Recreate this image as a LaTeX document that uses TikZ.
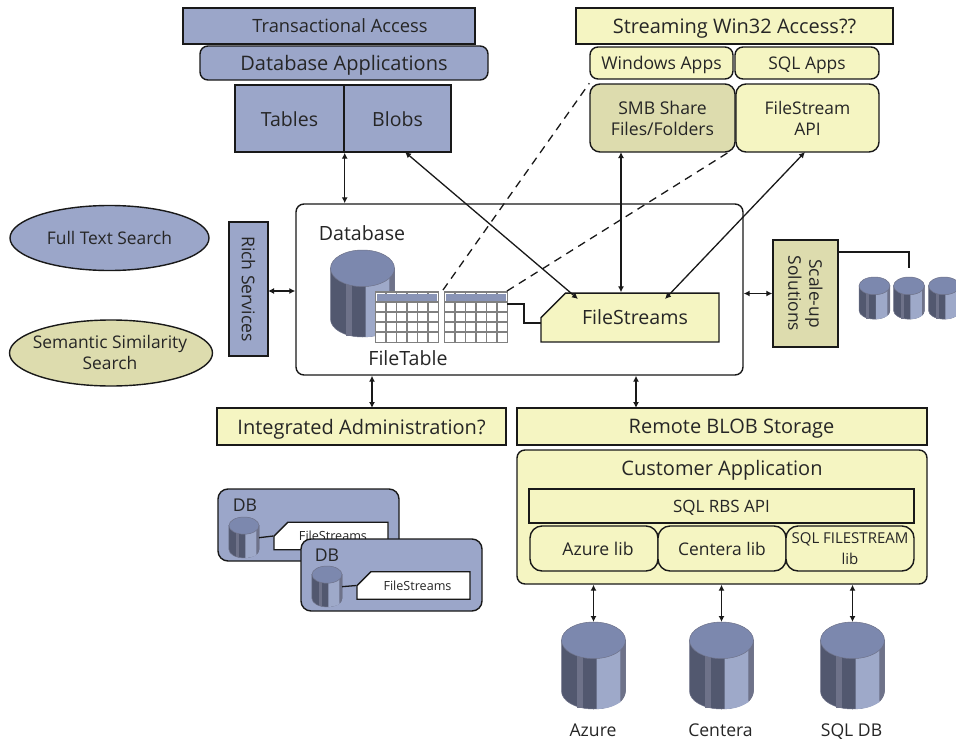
\documentclass[tikz,border=0pt]{standalone}
\usepackage{fontspec}
\setmainfont{Open Sans}
\usetikzlibrary{arrows.meta,shapes.geometric,shapes.misc}

\definecolor{slateblue}{HTML}{9BA6C9}
\definecolor{paleyellow}{HTML}{F5F5C2}
\definecolor{khaki}{HTML}{DDDCAE}
\definecolor{cyltop}{HTML}{7C88AE}
\definecolor{cyldark}{HTML}{52586F}
\definecolor{cylstrip}{HTML}{6E7289}
\definecolor{cyllight}{HTML}{9EA9C9}

\tikzset{
    labeltext/.style={text=black!85,align=center,inner sep=0pt,text depth=0pt,font=\fontsize{#1}{21}\selectfont},
    labeltext/.default=20,
    plainbox/.style={draw=black!90,line width=1.4pt,inner sep=0pt,labeltext=#1},
    plainbox/.default=20,
    bluebox/.style={plainbox=#1,fill=slateblue},
    bluebox/.default=20,
    yellowbox/.style={plainbox=#1,fill=paleyellow},
    yellowbox/.default=20,
    khakibox/.style={plainbox=#1,fill=khaki},
    khakibox/.default=20,
    twoway/.style={{Latex[length=6pt,width=6pt]}-{Latex[length=6pt,width=6pt]},line width=1.3pt,black!90},
    filelink/.style={dash pattern=on 8pt off 6pt,line width=1.3pt,black!90},
    cutbox/.style={chamfered rectangle,chamfered rectangle corners=north west,
        chamfered rectangle xsep=#1,chamfered rectangle ysep=#1},
    dbcyl/.pic={
        \fill[cyldark,draw=cylstrip,line width=.5pt] (-32,18) -- (-32,69) .. controls (-32,79) and (-18,87) .. (0,87)
            .. controls (18,87) and (32,79) .. (32,69) -- (32,18) -- cycle;
        \fill[cylstrip] (-17,25) rectangle (-11,86);
        \fill[cyllight] (3,25) -- (27,25) -- (27,80) .. controls (20,85) and (12,87) .. (3,87) -- cycle;
        \fill[cylstrip] (27,25) -- (32,20) -- (32,69) .. controls (32,73) and (30,77) .. (27,80) -- cycle;
        \draw[cylstrip,line width=.5pt,fill=cyltop] (0,18.3) ellipse (32 and 18.3);
        \coordinate (-top) at (0,0);
        \coordinate (-east) at (32,44);
    },
    gridtable/.pic={
        \fill[white] (0,0) rectangle (63,50.5);
        \draw[black!50,line width=1.1pt,xstep=10.5,ystep=10] (0,50) grid (63,0);
        \draw[black!50,line width=1.1pt] (0,10) -- (63,10);
        \draw[black!50,line width=1.1pt] (0,20) -- (63,20);
        \draw[black!50,line width=1.1pt] (0,30) -- (63,30);
        \draw[black!50,line width=1.1pt] (0,40) -- (63,40);
        \draw[black!50,line width=1.8pt] (0,0) rectangle (63,50.5);
        \fill[cyltop!90!white] (1.5,1.5) rectangle (61.5,8.6);
    }
}

\begin{document}
\begin{tikzpicture}[x=1pt,y=-1pt]
    \useasboundingbox (0,0) rectangle (956,739);
    % top left stack
    \node[bluebox=18.3,minimum width=292,minimum height=36] (transact) at (329,26) {\hspace{22pt}Transactional Access};
    \node[bluebox,rounded corners=8pt,minimum width=288,minimum height=34] (dbapps) at (344,63) {Database Applications};
    \node[bluebox=19.5,minimum width=109,minimum height=67] (tables) at (289.5,118.5) {\raisebox{-1.5pt}{Tables}};
    \node[bluebox=19.5,minimum width=107,minimum height=67] (blobs) at (397.5,118.5) {\raisebox{-1.5pt}{Blobs}};
    % top right stack
    \node[yellowbox,minimum width=317,minimum height=36] (streaming) at (734.5,26) {Streaming Win32 Access??};
    \node[yellowbox=17.6,rounded corners=8pt,minimum width=143,minimum height=32] (winapps) at (661.5,63) {Windows Apps};
    \node[yellowbox=17.4,rounded corners=8pt,minimum width=144,minimum height=32] (sqlapps) at (807,63) {SQL Apps};
    \node[khakibox=17.6,rounded corners=10pt,minimum width=145,minimum height=68] (smb) at (662.5,118) {SMB Share\\Files/Folders};
    \node[yellowbox=17.4,rounded corners=10pt,minimum width=143,minimum height=68] (fsapi) at (807.5,118) {FileStream\\API};
    % left side services
    \node[bluebox,ellipse,minimum width=199,minimum height=65] (fulltext) at (109.5,238) {};
    \node[labeltext=17.4] (fulltextname) at (109.5,238) {Full Text Search};
    \node[khakibox,ellipse,minimum width=203,minimum height=66] (semantic) at (111,353) {};
    \node[labeltext=17.4] (semanticname) at (110,352) {Semantic Similarity\\Search};
    \node[bluebox=17.6,rotate=-90,minimum width=134,minimum height=39] (rich) at (248.5,289) {Rich Services};
    % central database box
    \node[plainbox,fill=white,rounded corners=8pt,minimum width=447,minimum height=171] (dbbox) at (519.5,289.5) {};
    \node[labeltext=19.6] (dbname) at (362,233) {Database};
    \pic (dbmain) at (362.5,250) {dbcyl};
    \pic (gridA) at (375.5,292) {gridtable};
    \pic (gridB) at (444.5,292) {gridtable};
    \node[labeltext=19.6] (ftname) at (408,358) {FileTable};
    \node[yellowbox=19.6,cutbox=17pt,minimum width=178,minimum height=37] (fstream) at (630,317.5) {\hspace{10pt}FileStreams};
    \coordinate (gridAtop) at (443,290);
    \coordinate (gridBtop) at (507,291);
    \coordinate (gridport) at (507,304);
    \coordinate (fsport) at (541,323);
    \coordinate (smbedge) at (729,152);
    \coordinate (smbout) at (621,152);
    \coordinate (blobout) at (405,152);
    \coordinate (apiout) at (805,152);
    \coordinate (fsblob) at (578,299);
    \coordinate (fsapiin) at (665,299);
    \coordinate (richport) at (268,291);
    \draw[line width=1.6pt,black!90] (gridport) -- (524,304) -- (524,323) -- (fsport);
    \draw[filelink] (gridAtop) -- (smb.north west);
    \draw[filelink] (gridBtop) -- (smbedge);
    % arrows around the box
    \draw[twoway] (tables.south east) -- (tables.south east |- dbbox.north);
    \draw[twoway] (blobout) -- (fsblob);
    \draw[twoway] (smbout) -- (smbout |- fstream.north);
    \draw[twoway] (apiout) -- (fsapiin);
    \draw[twoway] (richport) -- (richport -| dbbox.west);
    % scale-up block
    \node[khakibox=17.4,rotate=-90,minimum width=107,minimum height=65] (scale) at (805.5,293.5) {Scale-up\\Solutions};
    \draw[twoway] (dbbox.east |- scale.south) -- (scale.south);
    \pic[scale=.484] (scaleA) at (874.5,277) {dbcyl};
    \pic[scale=.484] (scaleB) at (909,277) {dbcyl};
    \pic[scale=.484] (scaleC) at (944,277) {dbcyl};
    \coordinate (scaleport) at (838,252);
    \coordinate (scalestub) at (909,268);
    \draw[line width=1.3pt,black!90] (scaleport) -| (scalestub);
    % lower bars
    \node[yellowbox,minimum width=289,minimum height=37] (admin) at (361.5,426.5) {Integrated Administration?};
    \node[yellowbox,minimum width=410,minimum height=37] (rbs) at (722,426.5) {\hspace{19pt}Remote BLOB Storage};
    \coordinate (adminport) at (372,408);
    \coordinate (rbsport) at (636,408);
    \draw[twoway] (adminport |- dbbox.south) -- (adminport);
    \draw[twoway] (rbsport |- dbbox.south) -- (rbsport);
    % customer application
    \node[yellowbox,rounded corners=8pt,minimum width=410,minimum height=134] (custapp) at (722,517) {};
    \node[labeltext] (custname) at (722,468) {Customer Application};
    \node[yellowbox=17,minimum width=385,minimum height=34] (rbsapi) at (721.5,506) {SQL RBS API};
    \node[yellowbox=17.6,rounded corners=12pt,minimum width=128,minimum height=45] (azurelib) at (594,548.5) {\hspace{8pt}Azure lib};
    \node[yellowbox=17.4,rounded corners=12pt,minimum width=128,minimum height=45] (centeralib) at (722,548.5) {Centera lib};
    \node[yellowbox=15,rounded corners=12pt,minimum width=128,minimum height=45] (sqllib) at (850,548.5) {SQL FILESTREAM\\lib};
    % stores
    \pic (azure) at (593.5,622) {dbcyl};
    \pic (centera) at (721.5,622) {dbcyl};
    \pic (sqldb) at (852.5,622) {dbcyl};
    \node[labeltext=17.6] (azurename) at (593,730) {Azure};
    \node[labeltext=17.6] (centeraname) at (720.5,730) {Centera};
    \node[labeltext=17.6] (sqldbname) at (851.5,730) {SQL DB};
    \draw[twoway] (azure-top |- custapp.south) -- (azure-top);
    \draw[twoway] (centera-top |- custapp.south) -- (centera-top);
    \draw[twoway] (sqldb-top |- custapp.south) -- (sqldb-top);
    % replica boxes
    \node[bluebox,rounded corners=10pt,minimum width=181,minimum height=72] (replicaA) at (308.5,525) {};
    \node[labeltext=17.6] (replicaAname) at (245,505) {DB};
    \pic[scale=.47] (replicaAcyl) at (244,517) {dbcyl};
    \node[plainbox=12.6,fill=white,cutbox=9pt,minimum width=114,minimum height=24] (replicaAfs) at (331,536) {\hspace{4pt}FileStreams};
    \draw[line width=1.3pt,black!90] (replicaAcyl-east) -- (replicaAfs.west);
    \node[bluebox,rounded corners=10pt,minimum width=181,minimum height=72] (replicaB) at (391.5,575) {};
    \node[labeltext=17.6] (replicaBname) at (327,555) {DB};
    \pic[scale=.47] (replicaBcyl) at (327,566) {dbcyl};
    \node[plainbox=12.6,fill=white,cutbox=9pt,minimum width=113,minimum height=23] (replicaBfs) at (413.5,585.5) {\hspace{8pt}FileStreams};
    \draw[line width=1.3pt,black!90] (replicaBcyl-east) -- (replicaBfs.west);
\end{tikzpicture}
\end{document}
